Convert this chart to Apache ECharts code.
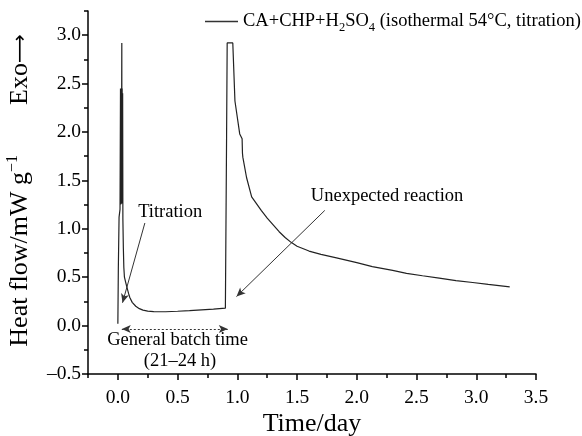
<!DOCTYPE html>
<html><head><meta charset="utf-8">
<script src="https://cdn.jsdelivr.net/npm/echarts@6/dist/echarts.min.js"></script>
<style>html,body{margin:0;padding:0;background:#fff}#c{width:582px;height:436px}</style>
</head><body><div id="c"></div>
<script>
// ---- data ----
const seriesLabel = 'CA+CHP+H{sub|2}SO{sub|4} (isothermal 54°C, titration)';
const timeDay = [0.000,0.004,0.010,0.018,0.022,0.024,0.026,0.028,0.030,0.031,0.032,0.033,0.034,0.036,0.038,0.040,0.042,0.046,0.050,0.055,0.065,0.075,0.090,0.100,0.120,0.150,0.180,0.210,0.250,0.300,0.400,0.500,0.600,0.700,0.800,0.900,0.908,0.910,0.912,0.915,0.962,0.980,1.000,1.020,1.040,1.043,1.046,1.077,1.120,1.160,1.200,1.250,1.300,1.350,1.400,1.450,1.500,1.600,1.700,1.830,2.000,2.130,2.300,2.416,2.550,2.690,2.830,2.970,3.100,3.280];
const heatFlow = [0.02,0.60,1.12,1.20,2.45,1.25,2.45,1.27,2.45,1.26,2.45,2.92,1.30,2.45,1.27,2.40,1.10,0.80,0.60,0.50,0.45,0.40,0.33,0.29,0.24,0.20,0.175,0.16,0.15,0.145,0.143,0.148,0.155,0.163,0.170,0.180,0.185,1.95,2.34,2.92,2.92,2.32,2.15,1.98,1.93,1.78,1.74,1.53,1.33,1.26,1.19,1.11,1.04,0.97,0.91,0.86,0.82,0.77,0.735,0.70,0.65,0.61,0.57,0.54,0.515,0.49,0.465,0.445,0.425,0.40];
const xMajorTicks = [0,0.5,1.0,1.5,2.0,2.5,3.0,3.5];
const yMajorTicks = [-0.5,0,0.5,1.0,1.5,2.0,2.5,3.0];
const titrationArrow = [[0.226,1.06],[0.039,0.236]];
const reactionArrow = [[1.732,1.19],[0.993,0.30]];
const batchArrow = [[0.033,-0.035],[0.92,-0.035]];
const titrationText = 'Titration';
const reactionText = 'Unexpected reaction';
const batchText1 = 'General batch time';
const batchText2 = '(21–24 h)';
const xName = 'Time/day';
const yNameMain = 'Heat flow/mW g';
const yNameSup = '−1';
const yNameExo = 'Exo';
const yNameArrow = '⟶';

// ---- chart ----
const FONT = 'Liberation Serif';
const chart = echarts.init(document.getElementById('c'), null, {renderer:'canvas'});
const fmt = v => (v < 0 ? '–' + Math.abs(v).toFixed(1) : v.toFixed(1));
const axisLineStyle = {color:'#000', width:1.5};
chart.setOption({
  animation:false,
  backgroundColor:'#fff',
  grid:{left:88,right:46,top:11,bottom:62,outerBoundsMode:'none'},
  legend:{
    left:200, top:7, itemWidth:33, itemHeight:1.3, icon:'rect',
    data:[{name:seriesLabel}],
    itemStyle:{color:'#333'},
    textStyle:{fontFamily:FONT,fontSize:18.5,color:'#000',
      rich:{sub:{fontFamily:FONT,fontSize:12.5,color:'#000',padding:[12,0,0,0]}}}
  },
  xAxis:[
    {type:'value',min:-0.25,max:3.5,interval:0.25,position:'bottom',
     axisLine:{show:true,onZero:false,lineStyle:axisLineStyle},
     axisTick:{show:true,inside:false,length:4,lineStyle:axisLineStyle},
     axisLabel:{show:false},splitLine:{show:false},
     name:xName,nameLocation:'middle',nameGap:37,
     nameTextStyle:{fontFamily:FONT,fontSize:26,color:'#000'}},
    {type:'value',min:-0.25,max:3.5,position:'bottom',
     axisLine:{show:false,onZero:false},
     axisTick:{show:true,inside:false,length:6,customValues:xMajorTicks,lineStyle:axisLineStyle},
     axisLabel:{show:true,margin:14,customValues:xMajorTicks,formatter:fmt,
       fontFamily:FONT,fontSize:19.5,color:'#000'},
     splitLine:{show:false}}
  ],
  yAxis:[
    {type:'value',min:-0.5,max:3.25,interval:0.25,position:'left',
     axisLine:{show:true,onZero:false,lineStyle:axisLineStyle},
     axisTick:{show:true,inside:false,length:4,lineStyle:axisLineStyle},
     axisLabel:{show:false},splitLine:{show:false},
     name:yNameMain+'{sup|'+yNameSup+'}{gap| }'+yNameExo+'{arr|'+yNameArrow+'}',
     nameLocation:'middle',nameGap:52,
     nameTextStyle:{fontFamily:FONT,fontSize:26,color:'#000',padding:[0,0,0,4],
       rich:{sup:{fontFamily:FONT,fontSize:16,color:'#000',padding:[0,0,15,0]},
             gap:{width:50},
             arr:{fontFamily:'DejaVu Sans',fontSize:20,color:'#000'}}}},
    {type:'value',min:-0.5,max:3.25,position:'left',
     axisLine:{show:false,onZero:false},
     axisTick:{show:true,inside:false,length:6,customValues:yMajorTicks,lineStyle:axisLineStyle},
     axisLabel:{show:true,margin:7,customValues:yMajorTicks,formatter:fmt,
       fontFamily:FONT,fontSize:19.5,color:'#000'},
     splitLine:{show:false}}
  ],
  series:[{
    name:seriesLabel,type:'line',xAxisIndex:0,yAxisIndex:0,
    symbol:'none',showSymbol:false,
    lineStyle:{color:'#222',width:1.2},itemStyle:{color:'#222'},
    data:timeDay.map((t,i)=>[t,heatFlow[i]]),
    markLine:{
      silent:true,symbol:['none','arrow'],symbolSize:[6,9],
      label:{show:false},
      lineStyle:{color:'#333',width:1,type:'solid'},
      data:[
        [{coord:titrationArrow[0]},{coord:titrationArrow[1]}],
        [{coord:reactionArrow[0]},{coord:reactionArrow[1]}],
        [{coord:batchArrow[0],symbol:'arrow',lineStyle:{type:[2,2],width:1,color:'#333'}},{coord:batchArrow[1],symbol:'arrow'}]
      ]
    }
  }]
});

// annotation texts positioned via data coordinates
function px(p){return chart.convertToPixel({xAxisIndex:0,yAxisIndex:0},p);}
const tPos = px([0.17,1.17]);
const rPos = px([1.615,1.34]);
const b1 = px([0.50,-0.155]);
const b2 = px([0.52,-0.37]);
const tStyle = {fontFamily:FONT,fontSize:18.5,fill:'#000'};
chart.setOption({graphic:[
  {type:'text',x:tPos[0],y:tPos[1],style:Object.assign({text:titrationText,align:'left',verticalAlign:'middle'},tStyle)},
  {type:'text',x:rPos[0],y:rPos[1],style:Object.assign({text:reactionText,align:'left',verticalAlign:'middle'},tStyle)},
  {type:'text',x:b1[0],y:b1[1],style:Object.assign({text:batchText1,align:'center',verticalAlign:'middle'},tStyle)},
  {type:'text',x:b2[0],y:b2[1],style:Object.assign({text:batchText2,align:'center',verticalAlign:'middle'},tStyle)}
]});
</script></body></html>
